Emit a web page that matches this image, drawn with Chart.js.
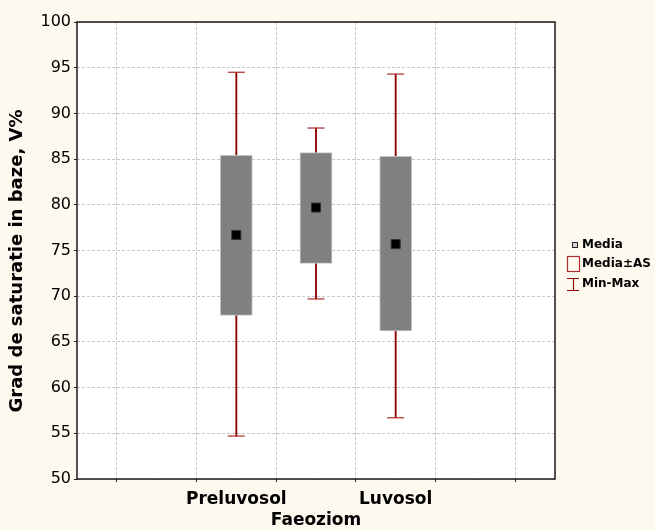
<!DOCTYPE html>
<html><head><meta charset="utf-8">
<script src="https://cdn.jsdelivr.net/npm/chart.js@4.4.1/dist/chart.umd.min.js"></script>
<style>html,body{margin:0;padding:0;background:#fdf9ef;}</style>
</head><body>
<canvas id="c" width="655" height="530"></canvas>
<script>
// ---- data ----
const categories = ['Preluvosol', 'Faeoziom', 'Luvosol'];
const categoryX = [2, 3, 4];           // slots on the 0..6 x axis
const meanValues = [76.7, 79.7, 75.7];
const sdLow = [67.9, 73.6, 66.2];
const sdHigh = [85.4, 85.7, 85.3];
const minValues = [54.7, 69.7, 56.7];
const maxValues = [94.5, 88.4, 94.3];
const yMin = 50, yMax = 100, yStep = 5;
const yTitle = 'Grad de saturatie in baze, V%';
const legendLabels = ['Media', 'Media±AS', 'Min-Max'];

const FONT = 'DejaVu Sans';
const RED = '#8f0000';

const boxData = categoryX.map((x, i) => ({x: x, y: [sdLow[i], sdHigh[i]]}));
const whiskerData = categoryX.map((x, i) => ({x: x, y: [minValues[i], maxValues[i]]}));
const capData = categoryX.flatMap((x, i) => [{x: x, y: minValues[i]}, {x: x, y: maxValues[i]}]);
const meanData = categoryX.map((x, i) => ({x: x, y: meanValues[i]}));

const bgPlugin = {
  id: 'bg',
  beforeDraw(chart) {
    const {ctx, chartArea: a} = chart;
    ctx.save();
    ctx.fillStyle = '#fdf9ef';
    ctx.fillRect(0, 0, chart.width, chart.height);
    ctx.fillStyle = '#ffffff';
    ctx.fillRect(a.left, a.top, a.right - a.left, a.bottom - a.top);
    ctx.restore();
  },
  afterDraw(chart) {
    const {ctx, chartArea: a} = chart;
    ctx.save();
    ctx.strokeStyle = '#1a1a1a';
    ctx.lineWidth = 1.5;
    ctx.strokeRect(a.left, a.top, a.right - a.left, a.bottom - a.top);
    // y axis title
    ctx.save();
    ctx.translate(17, 261);
    ctx.rotate(-Math.PI / 2);
    ctx.font = 'bold 18px "' + FONT + '"';
    ctx.textAlign = 'center';
    ctx.textBaseline = 'middle';
    ctx.fillStyle = '#000';
    ctx.fillText(yTitle, 0, 0);
    ctx.restore();
    // legend
    const tx = 582;
    ctx.font = 'bold 12px "' + FONT + '"';
    ctx.textBaseline = 'middle';
    ctx.textAlign = 'left';
    // Media
    ctx.fillStyle = '#d8d8d8';
    ctx.fillRect(572, 242, 6, 6);
    ctx.strokeStyle = '#222'; ctx.lineWidth = 1;
    ctx.strokeRect(572.5, 242.5, 5, 5);
    ctx.fillStyle = '#000';
    ctx.fillText(legendLabels[0], tx, 245);
    // Media±AS
    ctx.strokeStyle = '#b03030'; ctx.lineWidth = 1.2;
    ctx.strokeRect(567.5, 256.5, 12, 15);
    ctx.fillText(legendLabels[1], tx, 264);
    // Min-Max
    ctx.strokeStyle = RED; ctx.lineWidth = 1.2;
    ctx.beginPath();
    ctx.moveTo(567, 278.5); ctx.lineTo(579, 278.5);
    ctx.moveTo(573.5, 278.5); ctx.lineTo(573.5, 290.5);
    ctx.moveTo(567, 290.5); ctx.lineTo(579, 290.5);
    ctx.stroke();
    ctx.fillText(legendLabels[2], tx, 284);
    ctx.restore();
  }
};

new Chart(document.getElementById('c'), {
  type: 'bar',
  data: {
    datasets: [
      {type: 'bar', data: whiskerData, backgroundColor: RED, borderWidth: 0,
       barThickness: 1.2, grouped: false, order: 3},
      {type: 'bar', data: boxData, backgroundColor: '#808080', borderColor: '#c4c4c4',
       borderWidth: 1, borderSkipped: false, barThickness: 32, grouped: false, order: 2},
      {type: 'scatter', data: capData, pointStyle: 'line', pointRadius: 8.5,
       borderColor: '#b02a2a', borderWidth: 1.2, pointHoverRadius: 8.5, order: 1},
      {type: 'scatter', data: meanData, pointStyle: 'rect', pointRadius: 6.4,
       backgroundColor: '#000', borderColor: '#333', borderWidth: 1, order: 0}
    ]
  },
  options: {
    responsive: false,
    animation: false,
    devicePixelRatio: 1,
    layout: {padding: {top: 22, right: 100, left: 0, bottom: 0}},
    plugins: {legend: {display: false}, tooltip: {enabled: false}},
    scales: {
      x: {
        type: 'linear', min: 0, max: 6, offset: false,
        afterFit(s) { s.height = 51; },
        ticks: {
          stepSize: 1, autoSkip: false, maxRotation: 0, padding: 7,
          color: '#000', font: {family: FONT, size: 17, weight: 'bold', lineHeight: 1.25},
          callback(v) {
            const i = categoryX.indexOf(v);
            if (i < 0) return '';
            return (i % 2 === 1) ? ['', categories[i]] : categories[i];
          }
        },
        grid: {color: '#c8c8c8', tickColor: '#222', tickLength: 3, lineWidth: 1},
        border: {display: false, dash: [3, 2]}
      },
      y: {
        min: yMin, max: yMax,
        afterFit(s) { s.width = 77; },
        ticks: {stepSize: yStep, padding: 3, color: '#000',
                font: {family: FONT, size: 16}},
        grid: {color: '#c8c8c8', tickColor: '#222', tickLength: 3, lineWidth: 1},
        border: {display: false, dash: [3, 2]},
        title: {display: false}
      }
    }
  },
  plugins: [bgPlugin]
});
</script>
</body></html>
